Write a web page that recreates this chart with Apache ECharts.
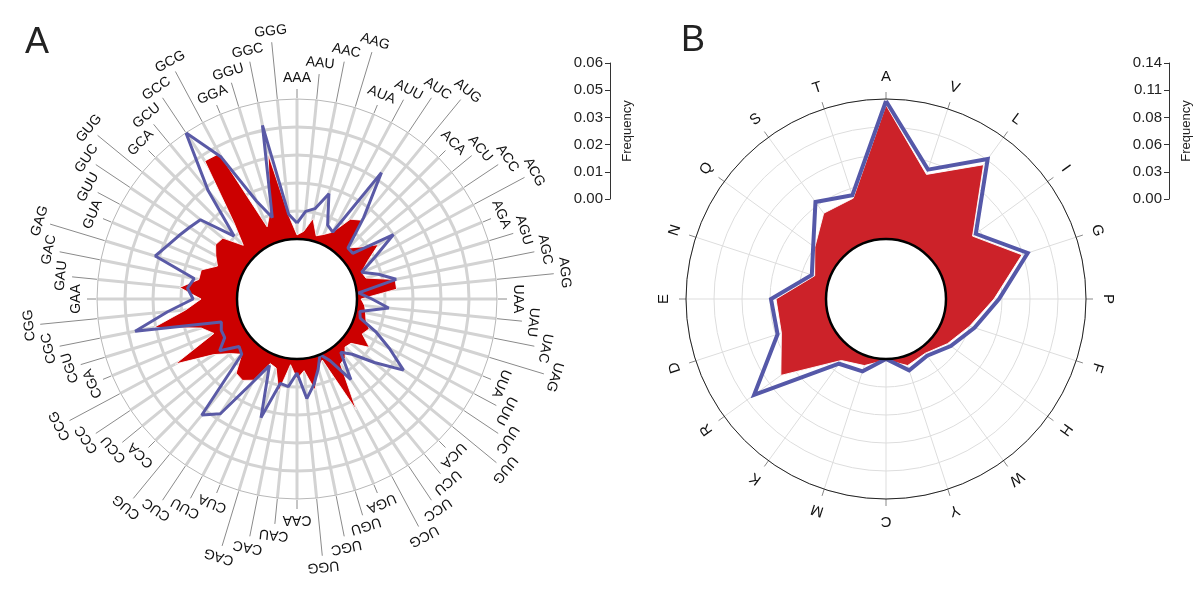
<!DOCTYPE html>
<html>
<head>
<meta charset="utf-8">
<script src="https://cdn.jsdelivr.net/npm/echarts@6/dist/echarts.min.js"></script>
<style>
  html, body { margin: 0; background: #fff; }
  #chart { width: 1200px; height: 616px; }
</style>
</head>
<body>
<div id="chart"></div>
<script>
// panel A: codons, clockwise from the top
const codons = [
  'AAA','AAU','AAC','AAG','AUA','AUU','AUC','AUG','ACA','ACU','ACC','ACG','AGA','AGU','AGC','AGG',
  'UAA','UAU','UAC','UAG','UUA','UUU','UUC','UUG','UCA','UCU','UCC','UCG','UGA','UGU','UGC','UGG',
  'CAA','CAU','CAC','CAG','CUA','CUU','CUC','CUG','CCA','CCU','CCC','CCG','CGA','CGU','CGC','CGG',
  'GAA','GAU','GAC','GAG','GUA','GUU','GUC','GUG','GCA','GCU','GCC','GCG','GGA','GGU','GGC','GGG'
];
const codonRed = [
  0.0017,0.0033,0.0091,0.0025,0.0041,0.0066,0.0149,0.0174,0.0050,0.0091,0.0157,0.0083,0.0041,0.0050,0.0166,0.0166,
  0.0017,0.0033,0.0041,0.0050,0.0075,0.0058,0.0112,0.0041,0.0033,0.0066,0.0075,0.0273,0.0025,0.0050,0.0137,0.0050,
  0.0083,0.0025,0.0141,0.0050,0.0041,0.0133,0.0157,0.0149,0.0075,0.0108,0.0166,0.0323,0.0124,0.0166,0.0356,0.0215,
  0.0149,0.0240,0.0166,0.0166,0.0108,0.0133,0.0157,0.0149,0.0066,0.0166,0.0439,0.0435,0.0075,0.0133,0.0365,0.0099
];
const codonBlue = [
  0.0066,0.0116,0.0133,0.0207,0.0083,0.0066,0.0381,0.0186,0.0050,0.0050,0.0232,0.0116,0.0041,0.0104,0.0170,0.0008,
  0.0062,0.0133,0.0017,0.0025,0.0104,0.0186,0.0282,0.0166,0.0075,0.0037,0.0153,0.0041,0.0000,0.0054,0.0112,0.0166,
  0.0058,0.0116,0.0108,0.0265,0.0050,0.0145,0.0323,0.0373,0.0075,0.0062,0.0137,0.0091,0.0091,0.0079,0.0435,0.0290,
  0.0182,0.0207,0.0186,0.0365,0.0331,0.0307,0.0286,0.0269,0.0120,0.0331,0.0580,0.0418,0.0191,0.0104,0.0485,0.0104
];
const ticksA = ['0.00', '0.01', '0.02', '0.03', '0.05', '0.06'];
const maxA = 0.058;

// panel B: amino acids, clockwise from the top
const aminoAcids = ['A','V','L','I','G','P','F','H','W','Y','C','M','K','R','D','E','N','Q','S','T'];
const aaRed  = [0.134,0.071,0.106,0.047,0.083,0.048,0.028,0.016,0.007,0.010,0.001,0.010,0.016,0.070,0.050,0.050,0.015,0.028,0.046,0.046];
const aaBlue = [0.138,0.076,0.113,0.051,0.089,0.053,0.033,0.020,0.010,0.015,0.000,0.016,0.020,0.103,0.054,0.055,0.018,0.030,0.060,0.049];
const ticksB = ['0.00', '0.03', '0.06', '0.08', '0.11', '0.14'];
const maxB = 0.14;

const FONT = '"Liberation Sans", Arial, sans-serif';

// [radius, angle] pairs, first point repeated at the end to close the loop
function closed(vals) {
  const d = vals.map((v, i) => [v, i]);
  d.push([vals[0], vals.length]);
  return d;
}

function labelSeries(polarIndex, names, o) {
  return {
    type: 'custom', coordinateSystem: 'polar', polarIndex: polarIndex, silent: true, z: 5,
    data: names.map((n, i) => [0, i]),
    renderItem(params, api) {
      const cs = params.coordSys;
      const i = params.dataIndex;
      const p = api.coord([0, i]);
      const phi = Math.atan2(p[1] - cs.cy, p[0] - cs.cx);
      const c = Math.cos(phi), s = Math.sin(phi);
      const rText = cs.r + o.gap + (o.stagger ? (i % 4) * o.step : 0);
      const kids = [{
        type: 'text', x: cs.cx + rText * c, y: cs.cy + rText * s,
        rotation: -(phi + Math.PI / 2),
        style: { text: names[i], fontSize: o.fontSize, fontFamily: FONT, fill: '#111',
                 align: 'center', verticalAlign: 'middle' }
      }];
      if (o.stagger) {
        const r1 = cs.r + 1, r2 = rText - 11;
        kids.push({ type: 'line',
          shape: { x1: cs.cx + r1 * c, y1: cs.cy + r1 * s, x2: cs.cx + r2 * c, y2: cs.cy + r2 * s },
          style: { stroke: '#8a8a8a', lineWidth: 1 } });
      }
      return { type: 'group', children: kids };
    }
  };
}

function holeSeries(polarIndex) {
  return {
    type: 'custom', coordinateSystem: 'polar', polarIndex: polarIndex, silent: true, z: 10,
    data: [[0, 0]],
    renderItem(params) {
      const cs = params.coordSys;
      return { type: 'circle', shape: { cx: cs.cx, cy: cs.cy, r: cs.r0 },
               style: { fill: '#fff', stroke: '#000', lineWidth: 2.5 } };
    }
  };
}

function scaleAxis(gridIndex, max, labels) {
  return {
    gridIndex: gridIndex, type: 'value', position: 'right', min: 0, max: max, interval: max / 5,
    axisLine: { show: true, lineStyle: { color: '#333', width: 1 } },
    axisTick: { show: true, inside: true, length: 5, lineStyle: { color: '#333' } },
    axisLabel: { inside: true, margin: 8, fontSize: 15, color: '#222', fontFamily: FONT,
                 formatter: v => labels[Math.round(v / (max / 5))] },
    splitLine: { show: false },
    name: 'Frequency', nameLocation: 'middle', nameRotate: 90, nameGap: 10,
    nameTextStyle: { fontSize: 13, color: '#222', fontFamily: FONT }
  };
}

const chart = echarts.init(document.getElementById('chart'));
chart.setOption({
  animation: false,
  textStyle: { fontFamily: FONT },
  title: [
    { text: 'A', left: 20, top: 20, textStyle: { fontSize: 36, fontWeight: 'normal', color: '#222', fontFamily: FONT } },
    { text: 'B', left: 676, top: 18, textStyle: { fontSize: 36, fontWeight: 'normal', color: '#222', fontFamily: FONT } }
  ],
  polar: [
    { center: [297, 299], radius: [60, 200] },
    { center: [297, 299], radius: [60, 172] },
    { center: [886, 299], radius: [60, 200] }
  ],
  angleAxis: [
    { polarIndex: 0, type: 'value', min: 0, max: codons.length, interval: 1, startAngle: 90, clockwise: true,
      axisLine: { show: true, lineStyle: { color: '#b8b8b8', width: 1 } },
      axisTick: { show: false }, axisLabel: { show: false },
      splitLine: { show: true, lineStyle: { color: '#d3d3d3', width: 3 } } },
    { polarIndex: 1, type: 'value', min: 0, max: codons.length, startAngle: 90,
      axisLine: { show: false }, axisTick: { show: false }, axisLabel: { show: false }, splitLine: { show: false } },
    { polarIndex: 2, type: 'value', min: 0, max: aminoAcids.length, interval: 1, startAngle: 90, clockwise: true,
      axisLine: { show: true, lineStyle: { color: '#222', width: 1 } },
      axisTick: { show: true, length: 7, lineStyle: { color: '#888' } }, axisLabel: { show: false },
      splitLine: { show: true, lineStyle: { color: '#dddddd', width: 1 } } }
  ],
  radiusAxis: [
    { polarIndex: 0, type: 'value', min: 0, max: maxA,
      axisLine: { show: false }, axisTick: { show: false }, axisLabel: { show: false }, splitLine: { show: false } },
    { polarIndex: 1, type: 'value', min: 0, max: maxA * 4 / 5, interval: maxA / 5,
      axisLine: { show: false }, axisTick: { show: false }, axisLabel: { show: false },
      splitLine: { show: true, lineStyle: { color: '#d3d3d3', width: 3 } } },
    { polarIndex: 2, type: 'value', min: 0, max: maxB, interval: maxB / 5,
      axisLine: { show: false }, axisTick: { show: false }, axisLabel: { show: false },
      splitLine: { show: true, lineStyle: { color: '#dddddd', width: 1 } } }
  ],
  grid: [
    { left: 610, top: 63, width: 1, height: 136 },
    { left: 1169, top: 63, width: 1, height: 136 }
  ],
  xAxis: [
    { gridIndex: 0, type: 'value', show: false },
    { gridIndex: 1, type: 'value', show: false }
  ],
  yAxis: [scaleAxis(0, maxA, ticksA), scaleAxis(1, maxB, ticksB)],
  series: [
    { type: 'line', coordinateSystem: 'polar', polarIndex: 0, z: 3, symbol: 'none', silent: true,
      data: closed(codonRed),
      lineStyle: { color: 'rgba(255,255,255,0.85)', width: 1 },
      areaStyle: { color: '#cc0000', opacity: 1 } },
    { type: 'line', coordinateSystem: 'polar', polarIndex: 0, z: 4, symbol: 'none', silent: true,
      data: closed(codonBlue),
      lineStyle: { color: '#5a5aa6', width: 3 } },
    holeSeries(0),
    labelSeries(0, codons, { gap: 21, step: 16, stagger: true, fontSize: 14 }),

    { type: 'line', coordinateSystem: 'polar', polarIndex: 2, z: 3, symbol: 'none', silent: true,
      data: closed(aaRed),
      lineStyle: { color: 'rgba(255,255,255,0.9)', width: 1 },
      areaStyle: { color: '#cc2229', opacity: 1 } },
    { type: 'line', coordinateSystem: 'polar', polarIndex: 2, z: 4, symbol: 'none', silent: true,
      data: closed(aaBlue),
      lineStyle: { color: '#5558a8', width: 4, join: 'miter' } },
    holeSeries(2),
    labelSeries(2, aminoAcids, { gap: 22, stagger: false, fontSize: 15 })
  ]
});
</script>
</body>
</html>
